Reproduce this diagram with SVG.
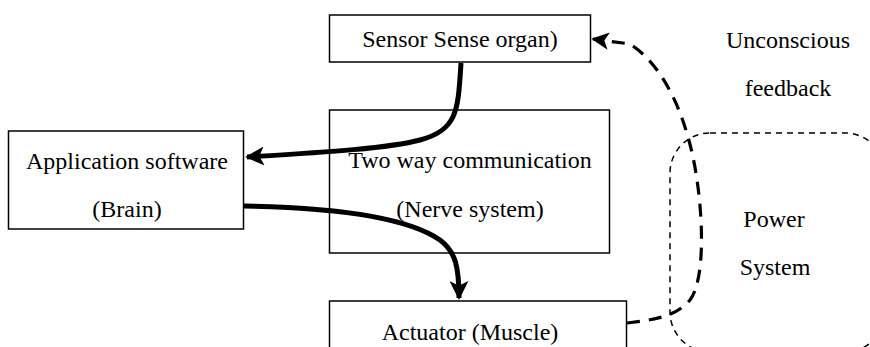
<svg xmlns="http://www.w3.org/2000/svg" width="870" height="347" viewBox="0 0 870 347">
  <defs>
    <style>
      .box { fill: #fff; stroke: #000; stroke-width: 1.5; }
      .lbl { fill: #000; text-anchor: middle; }
      .flow { fill: none; stroke: #000; stroke-width: 5; }
      .fb { fill: none; stroke: #000; stroke-width: 3.2; stroke-dasharray: 13 9; }
      .zone { fill: none; stroke: #000; stroke-width: 1.5; stroke-dasharray: 6 5; }
    </style>
    <marker id="head" viewBox="0 0 10 10" refX="9" refY="5" markerWidth="3.8" markerHeight="3.8" markerUnits="strokeWidth" orient="auto">
      <path d="M0,0 L10,5 L0,10 L2.5,5 Z" fill="#000"/>
    </marker>
    <marker id="headSmall" viewBox="0 0 10 10" refX="9" refY="5" markerWidth="5.5" markerHeight="5.5" markerUnits="strokeWidth" orient="auto">
      <path d="M0,0 L10,5 L0,10 L2.5,5 Z" fill="#000"/>
    </marker>
  </defs>

  <rect width="870" height="347" fill="#fff"/>

  <g font-family="'Liberation Serif', 'Times New Roman', serif" font-size="24">
    <!-- power supply region -->
    <g id="power">
      <rect class="zone" x="670" y="133" width="215" height="219" rx="40" ry="40"/>
      <text class="lbl" x="774" y="227">Power</text>
      <text class="lbl" x="775" y="275">System</text>
    </g>

    <g id="sensor">
      <rect class="box" x="329.5" y="15" width="261" height="47"/>
      <text class="lbl" x="460" y="47">Sensor Sense organ)</text>
    </g>

    <g id="application">
      <rect class="box" x="8.5" y="131" width="235" height="98"/>
      <text class="lbl" x="127" y="169">Application software</text>
      <text class="lbl" x="127" y="217">(Brain)</text>
    </g>

    <g id="nerve">
      <rect class="box" x="329.5" y="110" width="280" height="143"/>
      <text class="lbl" x="470" y="168">Two way communication</text>
      <text class="lbl" x="470" y="217">(Nerve system)</text>
    </g>

    <g id="actuator">
      <rect class="box" x="329.5" y="301" width="297" height="60"/>
      <text class="lbl" x="470" y="340">Actuator (Muscle)</text>
    </g>

    <g id="feedback-label">
      <text class="lbl" x="788" y="48">Unconscious</text>
      <text class="lbl" x="788" y="96">feedback</text>
    </g>
  </g>

  <!-- connectors -->
  <g id="connectors">
    <path class="flow" marker-end="url(#head)" d="M461,63 C458,110 458,130 420,140 C390,148 330,152 247,157"/>
    <path class="flow" marker-end="url(#head)" d="M244,206 C300,207 400,212 440,240 C456,252 459,268 459,298"/>
    <path class="fb" marker-end="url(#headSmall)" d="M627,323 C650,320 675,318 690,300 C705,280 703,220 697,180 C690,130 670,70 630,44 L593,39"/>
  </g>
</svg>
